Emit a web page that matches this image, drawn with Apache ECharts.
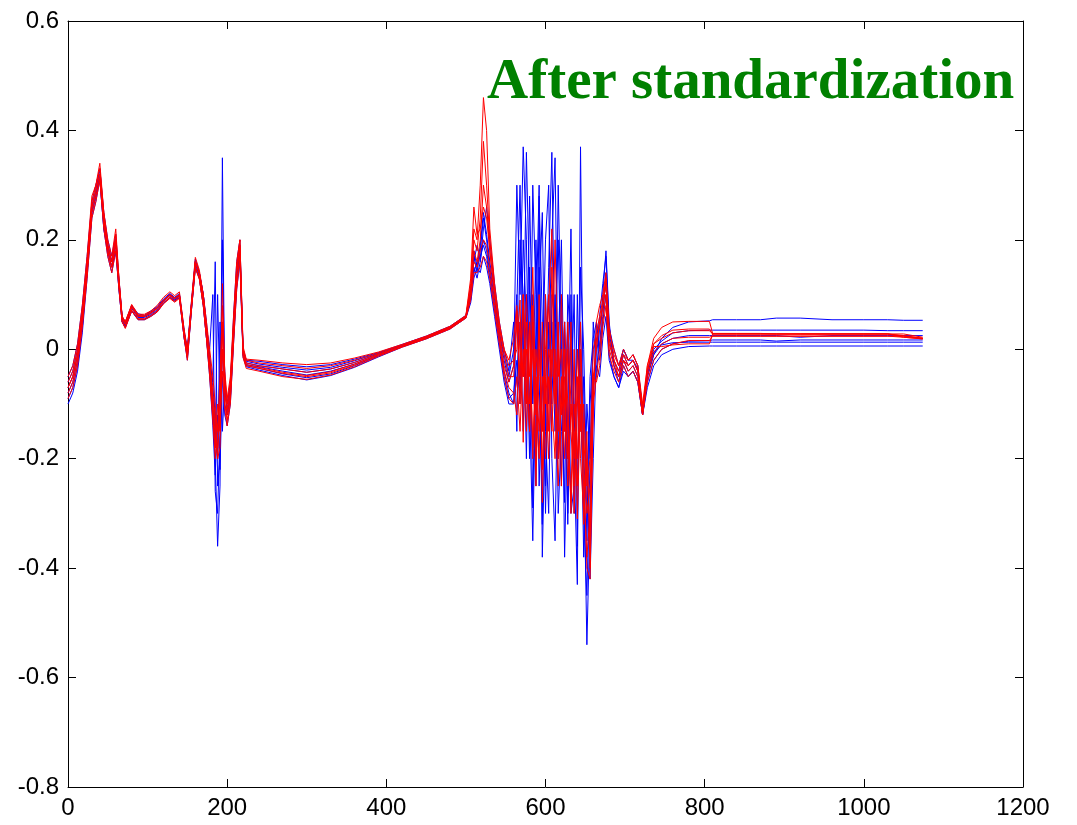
<!DOCTYPE html>
<html>
<head>
<meta charset="utf-8">
<script src="https://cdn.jsdelivr.net/npm/echarts@6/dist/echarts.min.js"></script>
<style>
html, body { margin: 0; padding: 0; background: #fff; }
#chart { width: 1077px; height: 825px; }
</style>
</head>
<body>
<div id="chart"></div>
<script>
// shared x positions (wavelength index)
const xs = [
    0, 6, 12, 18, 24, 30, 35, 40, 45, 50, 55, 60, 64, 68, 72,
    80, 88, 96, 104, 112, 120, 128, 134, 140, 146, 150, 155, 160, 165,
    170, 174, 178, 182, 185, 188, 191, 194, 197, 200, 204, 208, 212, 216, 220, 224,
    240, 270, 300, 330, 360, 390, 420, 450, 480, 500,
    506, 510, 514, 518, 522, 526, 530, 536, 542, 548, 554,
    560, 564, 568, 572, 576, 580, 584, 588, 592, 596, 600, 604, 608, 612, 616,
    620, 624, 628, 632, 636, 640, 644, 648, 652, 656, 660, 664, 668, 672, 676,
    680, 686, 692, 698, 704, 710, 716, 722, 728, 736, 746, 760, 780, 806, 810,
    840, 870, 890, 920, 960, 1000, 1030, 1050, 1074
];

// raw spectra (blue)
const blue1 = [
    -0.09, -0.07, -0.03, 0.04, 0.14, 0.25, 0.28, 0.31, 0.22, 0.18, 0.15, 0.18, 0.11, 0.05, 0.04,
    0.07, 0.055, 0.055, 0.062, 0.07, 0.085, 0.095, 0.09, 0.095, 0.02, -0.015, 0.07, 0.15, 0.13,
    0.08, 0.02, -0.04, -0.12, -0.2, -0.36, -0.25, 0.35, -0.1, -0.12, -0.09, 0.02, 0.12, 0.17, -0.01, -0.03,
    -0.035, -0.045, -0.052, -0.045, -0.03, -0.012, 0.005, 0.02, 0.038, 0.058,
    0.09, 0.15, 0.13, 0.16, 0.2, 0.18, 0.14, 0.08, 0.02, -0.04, -0.08,
    -0.1, 0.08, 0.3, -0.05, 0.36, 0.1, -0.29, 0.05, 0.3, -0.38, -0.1, 0.15, 0.36, -0.05, -0.2,
    0.1, -0.38, -0.1, 0.22, -0.2, -0.43, 0.37, -0.2, -0.54, -0.3, -0.1, 0.05, 0.0, 0.1, 0.18,
    0.05, -0.03, -0.06, -0.02, -0.04, -0.03, -0.05, -0.12, -0.05, -0.01, 0.02, 0.04, 0.05, 0.052, 0.054,
    0.054, 0.054, 0.057, 0.057, 0.054, 0.054, 0.054, 0.053, 0.053
];
const blue2 = [
    -0.07, -0.05, -0.01, 0.06, 0.15, 0.26, 0.29, 0.32, 0.24, 0.19, 0.16, 0.2, 0.12, 0.06, 0.045,
    0.08, 0.06, 0.06, 0.066, 0.075, 0.09, 0.1, 0.092, 0.1, 0.03, 0.0, 0.08, 0.16, 0.14,
    0.1, 0.05, -0.02, -0.06, 0.16, -0.25, -0.2, 0.0, -0.06, -0.1, -0.06, 0.04, 0.14, 0.18, -0.005, -0.025,
    -0.03, -0.036, -0.042, -0.036, -0.024, -0.008, 0.007, 0.022, 0.04, 0.06,
    0.1, 0.18, 0.15, 0.19, 0.25, 0.21, 0.16, 0.1, 0.03, -0.02, -0.06,
    -0.03, 0.3, 0.1, 0.37, 0.2, -0.15, 0.1, -0.25, 0.28, 0.05, -0.3, 0.0, 0.2, 0.35, -0.1,
    -0.25, 0.05, -0.3, -0.1, 0.1, -0.36, 0.15, 0.0, -0.25, -0.42, -0.2, 0.0, 0.06, 0.12, 0.17,
    0.04, 0.0, -0.03, 0.0, -0.02, -0.01, -0.03, -0.11, -0.04, 0.0, 0.015, 0.03, 0.034, 0.035, 0.035,
    0.035, 0.035, 0.035, 0.035, 0.035, 0.035, 0.034, 0.034, 0.034
];
const blue3 = [
    -0.05, -0.03, 0.01, 0.08, 0.17, 0.27, 0.3, 0.33, 0.25, 0.2, 0.17, 0.21, 0.13, 0.06, 0.05,
    0.08, 0.065, 0.062, 0.07, 0.078, 0.092, 0.102, 0.095, 0.102, 0.035, 0.0, 0.085, 0.165, 0.14,
    0.1, 0.04, 0.0, 0.1, -0.26, -0.3, -0.15, 0.2, -0.08, -0.1, -0.07, 0.06, 0.16, 0.2, 0.0, -0.02,
    -0.022, -0.028, -0.032, -0.028, -0.018, -0.006, 0.009, 0.024, 0.042, 0.062,
    0.11, 0.16, 0.19, 0.16, 0.22, 0.26, 0.2, 0.12, 0.05, 0.0, -0.04,
    0.05, -0.15, 0.2, 0.1, -0.1, 0.28, 0.0, -0.2, 0.1, 0.25, -0.15, -0.3, 0.1, 0.05, 0.2,
    -0.1, 0.05, -0.32, 0.1, -0.15, 0.0, -0.05, -0.38, -0.1, -0.2, 0.05, -0.05, 0.04, 0.08, 0.12,
    0.02, -0.03, -0.05, -0.01, -0.03, -0.02, -0.04, -0.12, -0.05, -0.01, 0.01, 0.02, 0.025, 0.025, 0.025,
    0.025, 0.025, 0.025, 0.022, 0.025, 0.025, 0.025, 0.025, 0.025
];
const blue4 = [
    -0.08, -0.06, -0.02, 0.05, 0.14, 0.25, 0.28, 0.32, 0.23, 0.18, 0.15, 0.19, 0.12, 0.055, 0.042,
    0.075, 0.058, 0.058, 0.064, 0.072, 0.088, 0.098, 0.09, 0.098, 0.025, -0.01, 0.075, 0.155, 0.135,
    0.09, 0.03, -0.03, -0.1, -0.18, 0.1, -0.1, 0.05, -0.04, -0.12, -0.08, 0.03, 0.13, 0.18, -0.01, -0.028,
    -0.032, -0.04, -0.047, -0.04, -0.027, -0.01, 0.006, 0.021, 0.039, 0.059,
    0.095, 0.14, 0.16, 0.17, 0.19, 0.17, 0.13, 0.07, 0.01, -0.05, -0.09,
    -0.08, -0.02, -0.1, 0.2, 0.05, -0.2, 0.3, 0.1, -0.25, -0.05, 0.2, 0.3, -0.2, -0.35, 0.0,
    0.2, -0.15, 0.05, -0.3, -0.25, 0.1, -0.15, -0.05, -0.35, -0.1, 0.0, 0.02, -0.02, 0.05, 0.1,
    -0.01, -0.05, -0.07, -0.03, -0.05, -0.04, -0.06, -0.12, -0.06, -0.02, 0.0, 0.01, 0.015, 0.016, 0.017,
    0.017, 0.017, 0.015, 0.017, 0.017, 0.017, 0.017, 0.017, 0.017
];
const blue5 = [
    -0.06, -0.04, 0.0, 0.07, 0.16, 0.26, 0.29, 0.33, 0.24, 0.19, 0.16, 0.2, 0.125, 0.058, 0.047,
    0.078, 0.062, 0.06, 0.068, 0.076, 0.09, 0.1, 0.094, 0.1, 0.03, -0.005, 0.08, 0.16, 0.14,
    0.1, 0.04, -0.01, -0.07, -0.12, -0.2, 0.05, -0.15, -0.06, -0.11, -0.07, 0.04, 0.14, 0.19, -0.005, -0.022,
    -0.027, -0.033, -0.038, -0.033, -0.021, -0.007, 0.008, 0.023, 0.041, 0.061,
    0.1, 0.17, 0.14, 0.18, 0.24, 0.2, 0.15, 0.09, 0.03, -0.01, -0.05,
    0.0, 0.1, -0.08, 0.08, -0.2, 0.15, -0.1, 0.2, -0.05, -0.32, 0.1, -0.1, 0.05, -0.15, 0.3,
    0.0, -0.28, 0.1, 0.0, -0.3, -0.1, 0.05, -0.2, -0.3, -0.05, 0.02, 0.05, 0.0, 0.06, 0.14,
    0.03, -0.02, -0.04, 0.0, -0.02, -0.02, -0.035, -0.11, -0.045, -0.005, 0.008, 0.012, 0.013, 0.013, 0.013,
    0.013, 0.013, 0.013, 0.013, 0.013, 0.013, 0.013, 0.013, 0.013
];
const blue6 = [
    -0.1, -0.08, -0.04, 0.03, 0.13, 0.24, 0.27, 0.31, 0.22, 0.17, 0.14, 0.18, 0.11, 0.05, 0.04,
    0.07, 0.054, 0.054, 0.06, 0.068, 0.084, 0.094, 0.088, 0.094, 0.02, -0.02, 0.07, 0.15, 0.13,
    0.08, 0.02, -0.05, -0.14, -0.23, -0.12, -0.22, -0.05, -0.12, -0.14, -0.1, 0.01, 0.11, 0.16, -0.015, -0.032,
    -0.038, -0.048, -0.056, -0.048, -0.033, -0.014, 0.004, 0.019, 0.037, 0.057,
    0.085, 0.13, 0.15, 0.14, 0.17, 0.15, 0.12, 0.06, 0.0, -0.06, -0.1,
    -0.1, -0.05, 0.05, -0.15, 0.1, -0.1, -0.35, -0.05, 0.15, -0.05, -0.25, 0.05, -0.1, 0.1, -0.3,
    -0.15, 0.0, -0.2, 0.05, -0.1, -0.25, 0.0, -0.3, -0.45, -0.2, -0.05, -0.03, -0.05, 0.02, 0.06,
    -0.02, -0.05, -0.07, -0.04, -0.05, -0.04, -0.06, -0.12, -0.07, -0.03, -0.01, 0.0, 0.005, 0.006, 0.006,
    0.006, 0.006, 0.006, 0.006, 0.006, 0.006, 0.006, 0.006, 0.006
];

// standardized spectra (red)
const red1 = [
    -0.06, -0.04, 0.0, 0.07, 0.16, 0.27, 0.3, 0.33, 0.25, 0.19, 0.16, 0.21, 0.13, 0.06, 0.05,
    0.08, 0.062, 0.062, 0.068, 0.076, 0.09, 0.1, 0.094, 0.1, 0.03, -0.005, 0.08, 0.16, 0.14,
    0.1, 0.04, -0.02, -0.08, -0.14, -0.18, -0.12, 0.12, -0.05, -0.1, -0.06, 0.05, 0.15, 0.2, 0.0, -0.02,
    -0.025, -0.03, -0.035, -0.03, -0.02, -0.007, 0.008, 0.023, 0.041, 0.061,
    0.12, 0.22, 0.2, 0.3, 0.46, 0.4, 0.22, 0.12, 0.05, 0.0, -0.03,
    -0.02, 0.0, 0.09, -0.17, 0.05, -0.1, 0.0, -0.2, 0.1, -0.28, -0.05, 0.08, 0.22, -0.05, -0.15,
    0.1, -0.1, -0.2, 0.05, -0.3, -0.1, 0.05, -0.2, -0.4, -0.42, -0.1, 0.05, 0.08, 0.1, 0.14,
    0.04, -0.01, -0.03, 0.0, -0.02, -0.01, -0.03, -0.12, -0.03, 0.02, 0.04, 0.05, 0.051, 0.051, 0.029,
    0.029, 0.029, 0.028, 0.028, 0.028, 0.028, 0.028, 0.022, 0.019
];
const red2 = [
    -0.07, -0.05, -0.01, 0.06, 0.15, 0.26, 0.29, 0.32, 0.24, 0.18, 0.15, 0.2, 0.12, 0.055, 0.045,
    0.076, 0.06, 0.06, 0.066, 0.074, 0.088, 0.098, 0.092, 0.098, 0.028, -0.008, 0.078, 0.158, 0.138,
    0.09, 0.03, -0.03, -0.1, -0.16, -0.2, -0.08, 0.05, -0.08, -0.12, -0.08, 0.04, 0.14, 0.19, -0.005, -0.025,
    -0.03, -0.036, -0.042, -0.036, -0.024, -0.009, 0.006, 0.022, 0.04, 0.06,
    0.11, 0.2, 0.18, 0.24, 0.38, 0.3, 0.2, 0.11, 0.04, -0.01, -0.05,
    -0.05, 0.05, -0.05, 0.1, -0.15, 0.05, -0.2, 0.0, -0.1, -0.15, 0.1, -0.15, 0.15, -0.1, 0.05,
    -0.25, 0.0, -0.15, -0.28, 0.0, -0.31, -0.1, -0.25, -0.38, -0.3, -0.05, 0.0, 0.05, 0.08, 0.12,
    0.02, -0.02, -0.04, -0.01, -0.03, -0.02, -0.04, -0.11, -0.04, 0.01, 0.025, 0.035, 0.037, 0.037, 0.028,
    0.028, 0.028, 0.028, 0.028, 0.028, 0.028, 0.028, 0.025, 0.02
];
const red3 = [
    -0.05, -0.03, 0.01, 0.08, 0.17, 0.28, 0.3, 0.34, 0.25, 0.2, 0.17, 0.22, 0.13, 0.06, 0.05,
    0.082, 0.064, 0.064, 0.07, 0.08, 0.095, 0.105, 0.098, 0.105, 0.035, 0.0, 0.085, 0.168, 0.145,
    0.1, 0.05, 0.0, -0.05, -0.1, -0.15, -0.05, 0.08, -0.04, -0.09, -0.05, 0.06, 0.16, 0.2, 0.005, -0.018,
    -0.02, -0.025, -0.028, -0.025, -0.016, -0.005, 0.009, 0.024, 0.042, 0.062,
    0.13, 0.26, 0.21, 0.22, 0.26, 0.24, 0.18, 0.1, 0.04, 0.0, -0.02,
    0.02, 0.08, 0.0, -0.05, 0.1, -0.05, 0.15, -0.1, -0.2, 0.05, -0.1, 0.0, -0.05, 0.2, -0.05,
    0.0, -0.15, 0.05, -0.1, -0.2, 0.0, -0.15, -0.1, -0.25, -0.2, 0.0, 0.03, 0.06, 0.09, 0.13,
    0.03, 0.0, -0.03, -0.01, -0.02, -0.01, -0.03, -0.1, -0.03, 0.01, 0.02, 0.03, 0.034, 0.034, 0.028,
    0.028, 0.028, 0.028, 0.028, 0.028, 0.028, 0.028, 0.028, 0.022
];
const red4 = [
    -0.08, -0.06, -0.02, 0.05, 0.14, 0.25, 0.28, 0.31, 0.23, 0.18, 0.15, 0.19, 0.115, 0.05, 0.04,
    0.072, 0.056, 0.056, 0.062, 0.07, 0.085, 0.095, 0.088, 0.095, 0.022, -0.015, 0.072, 0.15, 0.13,
    0.08, 0.02, -0.04, -0.12, -0.18, -0.1, -0.15, 0.0, -0.1, -0.13, -0.09, 0.02, 0.12, 0.17, -0.012, -0.03,
    -0.035, -0.044, -0.05, -0.043, -0.029, -0.011, 0.005, 0.02, 0.038, 0.058,
    0.1, 0.16, 0.15, 0.18, 0.2, 0.19, 0.15, 0.08, 0.02, -0.04, -0.07,
    -0.08, -0.12, 0.05, -0.05, 0.0, -0.15, 0.05, -0.25, 0.0, -0.15, -0.05, -0.2, 0.0, -0.1, -0.25,
    -0.05, -0.2, 0.0, -0.15, -0.25, -0.05, -0.2, -0.3, -0.2, -0.35, -0.1, -0.05, 0.0, 0.06, 0.1,
    0.0, -0.03, -0.05, -0.02, -0.04, -0.03, -0.05, -0.12, -0.05, -0.005, 0.01, 0.02, 0.022, 0.022, 0.024,
    0.024, 0.024, 0.024, 0.024, 0.024, 0.024, 0.024, 0.022, 0.019
];
const red5 = [
    -0.09, -0.07, -0.03, 0.04, 0.13, 0.24, 0.27, 0.31, 0.22, 0.17, 0.14, 0.18, 0.11, 0.05, 0.038,
    0.07, 0.054, 0.054, 0.06, 0.068, 0.083, 0.093, 0.086, 0.093, 0.02, -0.02, 0.07, 0.148, 0.128,
    0.08, 0.02, -0.05, -0.13, -0.2, -0.14, -0.12, -0.04, -0.11, -0.14, -0.1, 0.01, 0.11, 0.165, -0.015, -0.035,
    -0.04, -0.05, -0.055, -0.047, -0.032, -0.013, 0.004, 0.019, 0.037, 0.057,
    0.09, 0.14, 0.14, 0.15, 0.17, 0.16, 0.13, 0.07, 0.01, -0.05, -0.09,
    -0.1, -0.05, -0.15, 0.0, -0.1, 0.05, -0.18, -0.05, -0.15, -0.05, -0.2, -0.05, -0.15, 0.0, -0.2,
    -0.1, -0.05, -0.25, -0.1, -0.15, -0.25, -0.05, -0.15, -0.3, -0.25, -0.05, -0.06, -0.03, 0.04, 0.08,
    -0.01, -0.04, -0.06, -0.03, -0.05, -0.04, -0.06, -0.12, -0.06, -0.02, 0.0, 0.01, 0.016, 0.016, 0.024,
    0.024, 0.024, 0.024, 0.024, 0.024, 0.024, 0.024, 0.024, 0.02
];
const red6 = [
    -0.07, -0.05, -0.01, 0.06, 0.15, 0.26, 0.29, 0.32, 0.24, 0.19, 0.16, 0.2, 0.125, 0.058, 0.046,
    0.078, 0.06, 0.06, 0.066, 0.075, 0.089, 0.099, 0.092, 0.099, 0.03, -0.006, 0.08, 0.16, 0.138,
    0.095, 0.035, -0.02, -0.09, -0.12, -0.2, -0.18, 0.03, -0.06, -0.11, -0.07, 0.04, 0.14, 0.185, -0.008, -0.028,
    -0.033, -0.042, -0.048, -0.041, -0.027, -0.01, 0.006, 0.021, 0.039, 0.059,
    0.1, 0.18, 0.16, 0.2, 0.3, 0.26, 0.18, 0.1, 0.03, -0.03, -0.06,
    -0.03, 0.07, -0.1, 0.1, -0.05, -0.15, 0.08, -0.12, 0.05, -0.22, 0.0, 0.1, -0.1, -0.2, 0.0,
    -0.12, 0.05, -0.1, -0.3, -0.1, -0.2, 0.0, -0.32, -0.15, -0.4, -0.08, 0.02, 0.04, 0.08, 0.12,
    0.01, -0.02, -0.05, -0.02, -0.03, -0.02, -0.04, -0.11, -0.04, 0.005, 0.005, 0.008, 0.01, 0.01, 0.028,
    0.028, 0.028, 0.028, 0.028, 0.028, 0.028, 0.028, 0.024, 0.02
];

const blueSeries = [blue1, blue2, blue3, blue4, blue5, blue6];
const redSeries = [red1, red2, red3, red4, red5, red6];

const chart = echarts.init(document.getElementById('chart'));

function makeLine(ys, color) {
    if (ys.length !== xs.length) console.error('length mismatch', ys.length, xs.length);
    return {
        type: 'line',
        data: xs.map((x, i) => [x, ys[i]]),
        symbol: 'none',
        silent: true,
        lineStyle: { color: color, width: 1 },
        itemStyle: { color: color }
    };
}

const axisFont = { color: '#000', fontSize: 24, fontFamily: 'Liberation Sans' };
const boxLine = { show: true, onZero: false, lineStyle: { color: '#000', width: 1 } };
const tick = { show: true, inside: true, length: 8, lineStyle: { color: '#000', width: 1 } };

chart.setOption({
    animation: false,
    backgroundColor: '#fff',
    title: {
        text: 'After standardization',
        left: 487,
        top: 55,
        padding: 0,
        textStyle: {
            color: '#008000',
            fontSize: 57,
            fontWeight: 'bold',
            fontFamily: 'Liberation Serif'
        }
    },
    grid: { left: 68, right: 54, top: 21, bottom: 38 },
    xAxis: [
        {
            type: 'value', min: 0, max: 1200, interval: 200, position: 'bottom',
            axisLine: boxLine, axisTick: tick,
            axisLabel: Object.assign({
                margin: 9,
                formatter: (v) => String(v)
            }, axisFont),
            splitLine: { show: false }
        },
        {
            type: 'value', min: 0, max: 1200, interval: 200, position: 'top',
            axisLine: boxLine, axisTick: tick,
            axisLabel: { show: false },
            splitLine: { show: false }
        }
    ],
    yAxis: [
        {
            type: 'value', min: -0.8, max: 0.6, interval: 0.2, position: 'left',
            axisLine: boxLine, axisTick: tick,
            axisLabel: Object.assign({
                margin: 9,
                formatter: (v) => String(+v.toFixed(1))
            }, axisFont),
            splitLine: { show: false }
        },
        {
            type: 'value', min: -0.8, max: 0.6, interval: 0.2, position: 'right',
            axisLine: boxLine, axisTick: tick,
            axisLabel: { show: false },
            splitLine: { show: false }
        }
    ],
    series: blueSeries.map((s) => makeLine(s, '#0000ff'))
        .concat(redSeries.map((s) => makeLine(s, '#ff0000')))
});

window.addEventListener('resize', () => chart.resize());
</script>
</body>
</html>
